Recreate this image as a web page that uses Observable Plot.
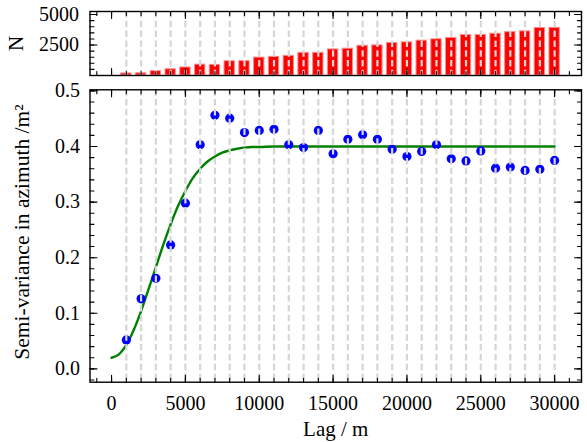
<!DOCTYPE html>
<html><head><meta charset="utf-8">
<script src="https://cdn.jsdelivr.net/npm/d3@7"></script>
<script src="https://cdn.jsdelivr.net/npm/@observablehq/plot@0.6"></script>
<style>
body{margin:0;background:#fff;}
#c{position:relative;width:587px;height:442px;}
#c svg{position:absolute;left:0;top:0;overflow:visible;font-family:"Liberation Serif","Times New Roman",serif !important;}
#c svg text{font-family:"Liberation Serif","Times New Roman",serif !important;}
</style></head><body><div id="c"></div>
<script>
// ---- data ----
const lags = [1000,2000,3000,4000,5000,6000,7000,8000,9000,10000,11000,12000,13000,14000,15000,
  16000,17000,18000,19000,20000,21000,22000,23000,24000,25000,26000,27000,28000,29000,30000];
const pairCounts = [170,180,360,510,660,890,870,1170,1180,1470,1530,1610,1860,1860,2140,
  2200,2440,2470,2670,2720,2860,2970,3080,3330,3330,3430,3560,3620,3900,3910];
const semivariance = [0.052,0.126,0.163,0.223,0.298,0.403,0.456,0.451,0.425,0.429,0.431,0.403,0.398,0.429,0.387,
  0.413,0.421,0.413,0.395,0.382,0.391,0.403,0.378,0.374,0.392,0.361,0.363,0.357,0.359,0.375];
const modelLag = [0,500,1000,1500,2000,2500,3000,3500,4000,4500,5000,5500,6000,6500,7000,7500,8000,8500,9000,9500,10000,
  11000,12000,14000,16000,20000,25000,30000];
const modelGamma = [0.020,0.026,0.043,0.070,0.104,0.143,0.183,0.223,0.260,0.293,0.320,0.343,0.360,0.373,0.382,0.389,0.393,0.396,0.398,0.399,0.399,
  0.400,0.400,0.400,0.400,0.400,0.400,0.400];
const xMajorTicks = [0,5000,10000,15000,20000,25000,30000];
const xMinorTicks = d3.range(-1000, 31001, 1000);
const nMajorTicks = [0,2500,5000];
const nLabelTicks = [2500,5000];
const nMinorTicks = d3.range(0, 5001, 500);
const gMajorTicks = [0,0.1,0.2,0.3,0.4,0.5];
const gMinorTicks = d3.range(-0.02, 0.501, 0.02);

// ---- tables for the marks ----
const counts = lags.map((lag, i) => ({lag, n: pairCounts[i]}));
const points = lags.map((lag, i) => ({lag, gamma: semivariance[i]}));
const model = modelLag.map((lag, i) => ({lag, gamma: modelGamma[i]}));

const W = 587, H = 442;
const xDomain = [-1460, 31820];
const FONT = '"Liberation Serif", "Times New Roman", serif';
const grid = {stroke: "#d6d6d6", strokeWidth: 2.2, strokeDasharray: "6.5,3.3"};

function inTicks(xs, ys, major, minor) {
  const sw = {stroke: "black", strokeWidth: 1.1, r: 0, anchor: "start"};
  const out = [];
  for (const [vals, len] of [[xs[0], major], [xs[1], minor]]) {
    out.push(Plot.vector(vals, {x: d => d, frameAnchor: "bottom", rotate: 0, length: len, ...sw}));
    out.push(Plot.vector(vals, {x: d => d, frameAnchor: "top", rotate: 180, length: len, ...sw}));
  }
  for (const [vals, len] of [[ys[0], major], [ys[1], minor]]) {
    out.push(Plot.vector(vals, {y: d => d, frameAnchor: "left", rotate: 90, length: len, ...sw}));
    out.push(Plot.vector(vals, {y: d => d, frameAnchor: "right", rotate: -90, length: len, ...sw}));
  }
  return out;
}

const topPlot = Plot.plot({
  width: W, height: H, marginLeft: 89.5, marginRight: 6, marginTop: 11, marginBottom: H - 75,
  style: {fontFamily: FONT, fontSize: "20px", background: "transparent", color: "black"},
  x: {domain: xDomain, axis: null},
  y: {domain: [0, 5250], axis: null},
  marks: [
    Plot.rect(counts, {x1: d => d.lag - 350, x2: d => d.lag + 350, y1: 0, y2: "n", fill: "red", stroke: "#ff8a8a", strokeWidth: 1}),
    Plot.ruleX(lags, grid),
    Plot.frame({stroke: "black", strokeWidth: 1.4}),
    ...inTicks([xMajorTicks, xMinorTicks], [nMajorTicks, nMinorTicks], 7, 4),
    Plot.axisY(nLabelTicks, {anchor: "left", tickSize: 0, tickPadding: 11, tickFormat: d3.format("d"), label: null, fontSize: 20, fontFamily: FONT}),
    Plot.text(["N"], {frameAnchor: "left", dx: -74, rotate: -90, textAnchor: "middle", fontSize: 21, fontFamily: FONT})
  ]
});

const bottomPlot = Plot.plot({
  width: W, height: H, marginLeft: 89.5, marginRight: 6, marginTop: 89.3, marginBottom: H - 381.7,
  style: {fontFamily: FONT, fontSize: "20px", background: "transparent", color: "black"},
  x: {domain: xDomain, axis: null},
  y: {domain: [-0.024, 0.502], axis: null},
  marks: [
    Plot.line(model, {x: "lag", y: "gamma", stroke: "#008000", strokeWidth: 2.4, curve: "monotone-x"}),
    Plot.dot(points, {x: "lag", y: "gamma", r: 4.6, fill: "blue"}),
    Plot.ruleX(lags, grid),
    Plot.frame({stroke: "black", strokeWidth: 1.4}),
    ...inTicks([xMajorTicks, xMinorTicks], [gMajorTicks, gMinorTicks], 7, 4),
    Plot.axisX(xMajorTicks, {anchor: "bottom", tickSize: 0, tickPadding: 14, tickFormat: d3.format("d"), label: null, fontSize: 20, fontFamily: FONT}),
    Plot.axisY(gMajorTicks, {anchor: "left", tickSize: 0, tickPadding: 10, tickFormat: d3.format(".1f"), label: null, fontSize: 20, fontFamily: FONT}),
    Plot.text(["Semi-variance in azimuth /m²"], {frameAnchor: "left", dx: -68, dy: -4, rotate: -90, textAnchor: "middle", fontSize: 21.5, fontFamily: FONT}),
    Plot.text(["Lag / m"], {frameAnchor: "bottom", dy: 54, textAnchor: "middle", fontSize: 21, fontFamily: FONT})
  ]
});

const c = document.getElementById("c");
c.appendChild(topPlot);
c.appendChild(bottomPlot);
</script></body></html>
